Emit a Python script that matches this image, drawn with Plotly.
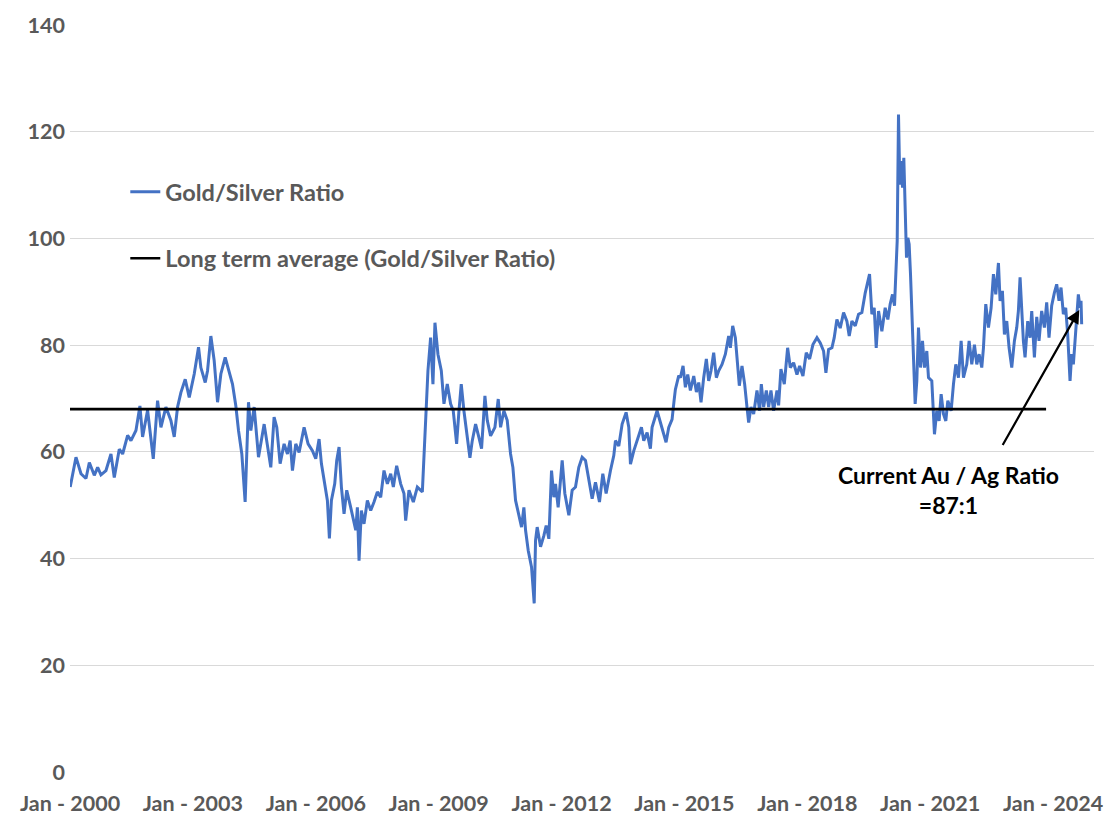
import pandas as pd
import plotly.graph_objects as go

# ---- data ----
# time positions as decimal years, and the Gold/Silver ratio value at each
ratio_years = [
    2000.005, 2000.065, 2000.146, 2000.268, 2000.390, 2000.472, 2000.593, 2000.675, 2000.756, 2000.878,
    2001.000, 2001.081, 2001.203, 2001.285, 2001.407, 2001.488, 2001.610, 2001.707, 2001.772, 2001.894,
    2002.033, 2002.138, 2002.220, 2002.341, 2002.463, 2002.545, 2002.626, 2002.707, 2002.813, 2002.911,
    2003.033, 2003.138, 2003.195, 2003.301, 2003.358, 2003.439, 2003.520, 2003.602, 2003.683, 2003.789,
    2003.886, 2003.967, 2004.049, 2004.114, 2004.195, 2004.276, 2004.358, 2004.415, 2004.496, 2004.602,
    2004.740, 2004.862,
    2004.902, 2004.983, 2005.048, 2005.130, 2005.227, 2005.309, 2005.374, 2005.431, 2005.512, 2005.593,
    2005.715, 2005.813, 2005.918, 2006.000, 2006.081, 2006.138, 2006.203, 2006.284, 2006.333, 2006.382,
    2006.463, 2006.512, 2006.569, 2006.626, 2006.691, 2006.756, 2006.853, 2006.976, 2007.016, 2007.057,
    2007.113, 2007.178, 2007.260, 2007.341, 2007.422, 2007.504, 2007.585, 2007.666, 2007.748, 2007.829,
    2007.894, 2007.975, 2008.073, 2008.154, 2008.195, 2008.276, 2008.382, 2008.480, 2008.602, 2008.658,
    2008.707, 2008.739, 2008.804, 2008.861, 2008.910, 2008.983, 2009.065, 2009.130, 2009.211, 2009.292,
    2009.357, 2009.439, 2009.496, 2009.552, 2009.617, 2009.699, 2009.764, 2009.821, 2009.902,
    2009.983, 2010.048, 2010.130, 2010.187, 2010.268, 2010.374, 2010.455, 2010.512, 2010.593, 2010.674,
    2010.756, 2010.813, 2010.878, 2010.943, 2011.024, 2011.081, 2011.122, 2011.187, 2011.268, 2011.333,
    2011.366, 2011.406, 2011.488, 2011.569, 2011.626, 2011.691, 2011.756, 2011.813, 2011.854, 2011.918,
    2011.976, 2012.016, 2012.081, 2012.179, 2012.260, 2012.341, 2012.422, 2012.504, 2012.585, 2012.666,
    2012.748, 2012.829, 2012.927, 2013.008, 2013.089, 2013.195, 2013.276, 2013.317, 2013.398, 2013.480,
    2013.577, 2013.642, 2013.683, 2013.764, 2013.886, 2013.951, 2014.008, 2014.089, 2014.170, 2014.211,
    2014.333, 2014.415, 2014.496, 2014.552, 2014.618, 2014.699, 2014.748, 2014.780, 2014.862,
    2014.902, 2014.967, 2015.024, 2015.081, 2015.146, 2015.228, 2015.293, 2015.350, 2015.406, 2015.471,
    2015.536, 2015.593, 2015.650, 2015.715, 2015.780, 2015.837, 2015.918, 2016.000, 2016.081, 2016.122,
    2016.179, 2016.244, 2016.284, 2016.341, 2016.406, 2016.471, 2016.528, 2016.569, 2016.626, 2016.691,
    2016.772, 2016.837, 2016.878, 2016.935, 2017.000, 2017.057, 2017.113, 2017.178, 2017.260, 2017.300,
    2017.357, 2017.439, 2017.520, 2017.585, 2017.666, 2017.748, 2017.813, 2017.894, 2017.975, 2018.057,
    2018.138, 2018.236, 2018.317, 2018.398, 2018.455, 2018.520, 2018.602, 2018.658, 2018.723, 2018.804,
    2018.886, 2018.967, 2019.024, 2019.089, 2019.171, 2019.252, 2019.333, 2019.415, 2019.520, 2019.577,
    2019.634, 2019.683, 2019.740, 2019.821,
    2019.902, 2019.967, 2020.024, 2020.081, 2020.130, 2020.170, 2020.195, 2020.227, 2020.260, 2020.293,
    2020.325, 2020.357, 2020.390, 2020.422, 2020.455, 2020.487, 2020.520, 2020.569, 2020.601, 2020.634,
    2020.674, 2020.715, 2020.764, 2020.813, 2020.861, 2020.918, 2020.959, 2021.040, 2021.105, 2021.162,
    2021.219, 2021.268, 2021.325, 2021.382, 2021.431, 2021.512, 2021.569, 2021.626, 2021.691, 2021.756,
    2021.813, 2021.894, 2021.951, 2022.016, 2022.081, 2022.138, 2022.195, 2022.260, 2022.301, 2022.358,
    2022.423, 2022.488, 2022.545, 2022.602, 2022.667, 2022.707, 2022.764, 2022.813, 2022.870, 2022.927,
    2022.992, 2023.057, 2023.114, 2023.154, 2023.195, 2023.236, 2023.276, 2023.317, 2023.382, 2023.439,
    2023.480, 2023.545, 2023.602, 2023.658, 2023.723, 2023.789, 2023.845, 2023.902, 2023.967, 2024.032,
    2024.089, 2024.146, 2024.195, 2024.252, 2024.309, 2024.358, 2024.415, 2024.455, 2024.496, 2024.537,
    2024.577, 2024.618, 2024.659, 2024.683, 2024.699,
]
ratio_values = [
    53.4, 55.9, 59.0, 55.9, 55.0, 58.0, 55.6, 57.1, 55.7, 56.5,
    59.6, 55.2, 60.5, 59.6, 63.1, 62.1, 64.0, 68.6, 62.8, 67.8,
    58.7, 69.6, 64.6, 68.4, 65.9, 62.8, 68.4, 71.1, 73.6, 70.2,
    74.6, 79.6, 75.8, 73.0, 75.2, 81.7, 77.1, 69.3, 74.6, 77.7,
    75.2, 72.7, 68.6, 64.0, 59.6, 50.6, 69.3, 64.0, 68.4, 59.0,
    65.2, 58.4,
    57.1, 66.5, 64.6, 57.8, 61.5, 59.6, 62.1, 56.5, 61.5, 59.9,
    64.6, 61.5, 60.2, 58.7, 62.4, 57.8, 54.6, 50.9, 43.8, 50.9,
    54.0, 58.4, 60.9, 53.4, 48.4, 52.8, 49.6, 45.3, 49.6, 39.6,
    49.0, 46.5, 50.9, 49.0, 50.6, 52.5, 51.5, 56.5, 54.0, 55.9,
    53.4, 57.4, 54.0, 52.2, 47.1, 52.8, 50.6, 53.4, 52.5, 61.5,
    67.7, 75.2, 81.4, 72.7, 84.2, 78.3, 75.2, 69.0, 72.7, 69.0,
    67.7, 61.5, 67.7, 72.7, 67.7, 62.1, 58.9, 62.1, 65.2,
    62.7, 60.6, 70.5, 65.9, 63.0, 64.6, 69.9, 64.6, 67.7, 65.9,
    59.6, 57.1, 50.9, 48.4, 45.9, 49.6, 45.3, 41.5, 38.4, 31.6,
    43.4, 45.9, 42.2, 44.3, 46.2, 43.7, 56.5, 51.5, 54.0, 49.6,
    55.6, 58.4, 52.2, 48.1, 52.8, 53.4, 57.1, 59.0, 58.4, 54.6,
    51.2, 54.3, 50.6, 55.9, 52.2, 56.5, 59.3, 62.1, 61.1, 65.2,
    67.4, 64.6, 57.7, 60.2, 63.0, 64.6, 62.1, 63.6, 60.6, 64.6,
    67.7, 65.5, 63.6, 61.8, 64.6, 66.1, 69.6, 71.7, 74.3,
    73.9, 76.1, 72.1, 74.5, 71.5, 74.2, 71.2, 73.0, 69.3, 73.9,
    77.4, 73.3, 75.2, 78.6, 73.9, 75.2, 76.4, 78.3, 81.7, 79.5,
    83.6, 81.4, 77.1, 72.4, 76.1, 72.7, 68.4, 65.5, 68.4, 67.1,
    71.5, 67.7, 72.7, 68.4, 71.5, 68.4, 71.5, 67.7, 71.5, 68.7,
    75.5, 72.7, 79.5, 75.8, 76.7, 74.5, 76.1, 74.2, 78.6, 77.4,
    80.1, 81.4, 80.4, 78.9, 74.8, 79.2, 79.5, 81.4, 84.8, 83.2,
    86.1, 84.5, 81.7, 84.5, 83.6, 85.8, 86.1, 89.8, 93.3, 85.8,
    87.0, 79.5, 86.4, 82.6,
    87.0, 84.8, 87.7, 89.5, 87.4, 95.8, 99.5, 123.2, 110.1, 114.5,
    109.5, 115.1, 102.0, 96.4, 100.1, 98.9, 93.3, 83.3, 75.8, 69.0,
    73.3, 83.3, 75.8, 80.8, 75.8, 78.9, 73.9, 73.3, 63.3, 67.7,
    65.8, 70.8, 67.1, 65.8, 69.6, 67.7, 72.7, 76.4, 73.9, 80.8,
    73.9, 76.4, 80.8, 76.4, 80.1, 76.4, 78.3, 75.8, 79.5, 87.7,
    83.3, 87.0, 93.3, 89.5, 95.4, 88.3, 90.2, 82.0, 84.5, 79.5,
    75.8, 80.8, 83.3, 86.4, 92.7, 85.8, 80.8, 77.7, 84.5, 81.4,
    86.4, 77.7, 85.3, 80.8, 86.4, 83.3, 88.0, 81.4, 87.4, 89.8,
    91.4, 88.3, 90.8, 85.8, 87.0, 82.0, 73.3, 78.3, 76.4, 80.8,
    85.3, 89.5, 87.0, 88.3, 83.9,
]

avg_years = [2000.0, 2023.83]
avg_value = 68

tick_years = [2000, 2003, 2006, 2009, 2012, 2015, 2018, 2021, 2024]
tick_labels = ["Jan - %d" % y for y in tick_years]
y_ticks = [0, 20, 40, 60, 80, 100, 120, 140]

arrow_head = (2024.64, 86.6)
arrow_tail = (2022.75, 61.0)
note_pos = (2021.44, 52.8)
note_text = "Current Au / Ag Ratio<br>=87:1"


def to_date(y):
    return pd.Timestamp("2000-01-01") + pd.Timedelta(days=(y - 2000.0) * 365.25)


ratio_dates = [to_date(y) for y in ratio_years]
avg_dates = [to_date(y) for y in avg_years]

FONT = "Lato"
GRAY = "#595959"

fig = go.Figure()
fig.add_trace(go.Scatter(
    x=ratio_dates, y=ratio_values, mode="lines", name="Gold/Silver Ratio",
    line=dict(color="#4472C4", width=3), legendgroup="a",
))
fig.add_trace(go.Scatter(
    x=avg_dates, y=[avg_value] * len(avg_dates), mode="lines",
    name="Long term average (Gold/Silver Ratio)",
    line=dict(color="#000000", width=2.6), legendgroup="b",
))

fig.add_annotation(
    x=to_date(arrow_head[0]), y=arrow_head[1], ax=to_date(arrow_tail[0]), ay=arrow_tail[1],
    xref="x", yref="y", axref="x", ayref="y", text="", showarrow=True,
    arrowhead=2, arrowsize=1.2, arrowwidth=2.2, arrowcolor="#000000",
)
fig.add_annotation(
    x=to_date(note_pos[0]), y=note_pos[1], xref="x", yref="y", text=note_text,
    showarrow=False, align="center", xanchor="center", yanchor="middle",
    font=dict(family=FONT, size=23, color="#000000", weight="bold"),
)

fig.update_layout(
    width=1109, height=814,
    margin=dict(l=70, r=15, t=25, b=42),
    paper_bgcolor="white", plot_bgcolor="white",
    font=dict(family=FONT, color=GRAY, size=20, weight="bold"),
    showlegend=True,
    legend=dict(
        x=0.054, y=0.806, xanchor="left", yanchor="top",
        bgcolor="rgba(0,0,0,0)", tracegroupgap=33,
        font=dict(family=FONT, size=23.5, color=GRAY, weight="bold"),
    ),
    xaxis=dict(
        range=[to_date(2000.0), to_date(2025.0)],
        tickvals=[to_date(y) for y in tick_years], ticktext=tick_labels,
        showgrid=False, zeroline=False, showline=False, ticks="",
        ticklabelstandoff=16, automargin=False,
        tickfont=dict(family=FONT, size=21.5, color=GRAY, weight="bold"),
    ),
    yaxis=dict(
        range=[0, 140], tickvals=y_ticks, showgrid=True, gridcolor="#D9D9D9",
        gridwidth=1, zeroline=False, showline=False, ticks="", automargin=False,
        ticklabelstandoff=4,
        tickfont=dict(family=FONT, size=21.5, color=GRAY, weight="bold"),
    ),
)

fig.write_html("out.html", config={"displayModeBar": False},
               post_script="document.body.style.margin='0px';")
